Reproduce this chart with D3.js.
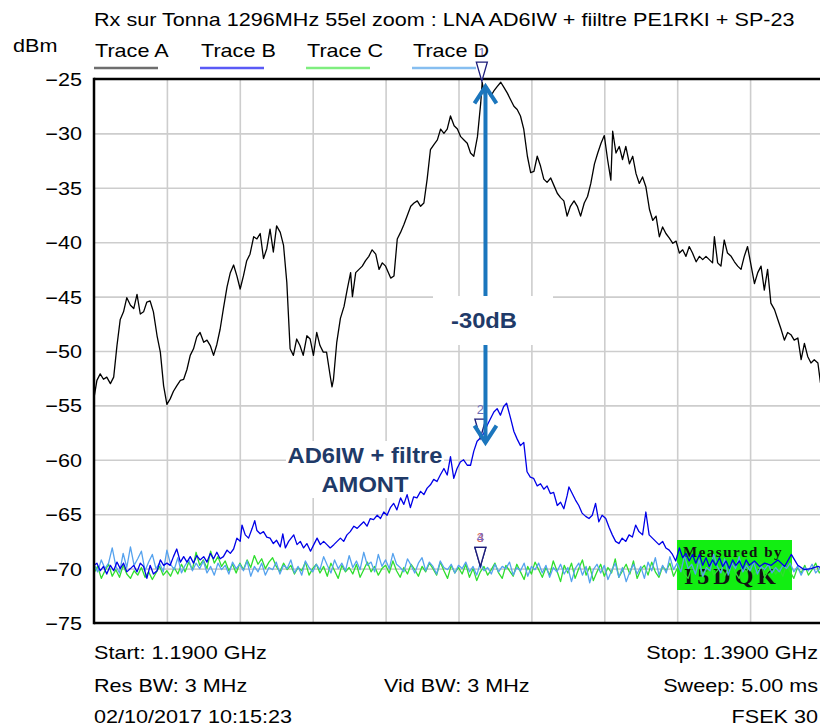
<!DOCTYPE html>
<html>
<head>
<meta charset="utf-8">
<script src="https://cdn.jsdelivr.net/npm/d3@7"></script>
<style>
  body { margin: 0; background: #fff; }
  svg { display: block; font-family: "Liberation Sans", Arial, sans-serif; }
</style>
</head>
<body>
<svg id="chart"></svg>
<script>
// 频谱仪截图的数据 (MHz, dBm)
var titleText = "Rx sur Tonna 1296MHz 55el zoom : LNA AD6IW + fiiltre PE1RKI + SP-23";
var traceNames = ["Trace A", "Trace B", "Trace C", "Trace D"];
var yTicks = [-25, -30, -35, -40, -45, -50, -55, -60, -65, -70, -75];
var gridFreqs = [1210, 1230, 1250, 1270, 1290, 1310, 1330, 1350, 1370];

var traceA = [[1190,-54.3],[1190.8,-52.7],[1191.7,-52.1],[1192.6,-52.6],[1193.5,-52.4],[1194.5,-53.0],[1195.4,-52.4],[1196.3,-49.5],[1197.2,-47.1],[1198.1,-46.4],[1199.0,-45.1],[1200.0,-45.8],[1200.9,-46.1],[1201.8,-44.8],[1202.7,-46.6],[1203.6,-46.4],[1204.5,-45.5],[1205.4,-45.4],[1206.3,-46.4],[1207.3,-48.6],[1208.2,-50.1],[1209.1,-53.2],[1210.0,-54.9],[1210.9,-54.4],[1211.8,-53.7],[1212.7,-53.2],[1213.7,-52.7],[1214.6,-52.6],[1215.5,-51.7],[1216.4,-50.4],[1217.3,-49.8],[1218.2,-48.7],[1219.1,-48.3],[1220.1,-49.2],[1221.0,-49.0],[1221.9,-49.5],[1222.8,-50.4],[1223.7,-49.4],[1224.6,-48.0],[1225.5,-46.1],[1226.5,-44.1],[1227.4,-42.8],[1228.3,-42.1],[1229.2,-43.1],[1230.1,-44.3],[1231.0,-43.1],[1231.9,-41.7],[1232.8,-41.1],[1233.8,-39.5],[1234.7,-39.7],[1235.6,-39.2],[1236.5,-41.5],[1237.4,-40.6],[1238.3,-38.8],[1239.2,-40.9],[1240.1,-38.5],[1241.1,-39.1],[1242.0,-40.3],[1242.9,-43.7],[1243.8,-49.8],[1244.7,-50.4],[1245.6,-48.9],[1246.5,-49.5],[1247.4,-50.4],[1248.4,-48.6],[1249.3,-48.9],[1250.2,-50.4],[1251.1,-48.3],[1252.0,-49.5],[1252.9,-50.1],[1253.8,-50.1],[1254.8,-52.3],[1255.3,-53.3],[1255.7,-52.6],[1256.6,-49.2],[1257.6,-47.0],[1258.6,-45.9],[1259.5,-44.3],[1260.4,-42.8],[1260.9,-45.0],[1261.8,-42.8],[1262.7,-42.5],[1263.6,-42.2],[1264.5,-41.7],[1265.4,-41.3],[1266.3,-40.7],[1267.3,-41.1],[1268.2,-42.5],[1269.1,-41.9],[1270.0,-42.2],[1271.4,-43.3],[1272.3,-43.1],[1273.2,-39.7],[1274.1,-39.1],[1275.0,-38.4],[1275.9,-37.6],[1276.9,-36.7],[1277.8,-36.4],[1278.7,-36.2],[1279.6,-36.7],[1280.5,-36.4],[1281.4,-34.2],[1282.3,-31.5],[1283.3,-31.0],[1284.2,-30.6],[1285.1,-29.6],[1286.0,-30.0],[1286.9,-29.6],[1287.8,-28.4],[1288.8,-29.3],[1289.7,-29.6],[1290.6,-30.3],[1291.5,-30.6],[1292.4,-30.9],[1293.3,-31.8],[1294.2,-32.1],[1295.2,-30.3],[1296.1,-27.2],[1296.5,-25.3],[1297.2,-26.6],[1297.9,-26.0],[1298.8,-26.6],[1299.7,-26.1],[1300.6,-25.7],[1301.6,-25.3],[1302.5,-25.8],[1303.4,-26.3],[1304.3,-26.9],[1305.2,-27.5],[1306.1,-27.8],[1307.0,-28.4],[1307.9,-29.6],[1308.9,-32.1],[1309.8,-33.6],[1310.7,-33.5],[1311.6,-32.1],[1312.5,-33.0],[1313.4,-34.2],[1314.3,-34.5],[1315.3,-34.1],[1316.2,-34.8],[1317.1,-35.5],[1318.0,-35.9],[1318.9,-36.2],[1319.8,-37.6],[1320.7,-36.7],[1321.7,-36.2],[1322.6,-36.7],[1323.5,-37.6],[1324.5,-36.4],[1325.4,-35.8],[1326.3,-34.6],[1327.3,-32.8],[1328.2,-31.8],[1329.1,-30.9],[1330.0,-30.2],[1330.9,-32.4],[1331.8,-34.3],[1332.3,-29.8],[1333.2,-31.8],[1334.1,-31.2],[1335.0,-32.4],[1335.9,-31.2],[1336.9,-32.8],[1337.8,-32.1],[1338.7,-33.7],[1339.6,-34.6],[1340.5,-34.0],[1341.4,-34.9],[1342.4,-37.0],[1343.3,-38.0],[1344.2,-37.6],[1345.1,-39.5],[1346.0,-38.6],[1346.9,-39.2],[1347.8,-39.6],[1348.8,-40.1],[1349.7,-39.9],[1350.6,-41.0],[1351.5,-40.7],[1352.4,-41.3],[1353.3,-40.4],[1354.2,-41.0],[1355.2,-41.8],[1356.1,-41.3],[1357.0,-41.6],[1357.9,-41.3],[1358.8,-41.6],[1359.7,-41.9],[1360.2,-39.5],[1361.1,-41.9],[1362.0,-42.2],[1362.9,-39.8],[1363.8,-41.0],[1364.8,-41.3],[1365.7,-41.8],[1366.6,-42.2],[1367.5,-42.5],[1368.4,-41.3],[1369.3,-40.4],[1370.3,-42.2],[1371.2,-43.8],[1372.1,-42.8],[1373.0,-42.2],[1373.9,-44.4],[1374.8,-42.5],[1375.7,-45.6],[1376.7,-46.2],[1377.6,-47.1],[1378.5,-48.0],[1379.4,-49.0],[1380.3,-48.3],[1381.2,-48.5],[1382.1,-49.0],[1383.1,-48.8],[1384.0,-50.8],[1384.9,-49.3],[1385.8,-50.5],[1386.7,-51.1],[1387.6,-50.8],[1388.6,-51.1],[1389.3,-52.9],[1390.0,-53.6]];

var traceB = [[1190,-69.7],[1190.8,-69.5],[1191.7,-70.2],[1192.6,-69.8],[1193.5,-70.5],[1194.5,-69.7],[1195.4,-70.2],[1196.3,-69.4],[1197.2,-70.0],[1198.1,-69.5],[1199.0,-70.3],[1200.0,-70.0],[1200.9,-69.7],[1201.8,-70.3],[1202.7,-69.5],[1203.6,-69.8],[1204.5,-70.9],[1205.4,-69.7],[1206.3,-70.5],[1207.3,-70.2],[1208.2,-69.2],[1209.1,-69.7],[1210.0,-69.5],[1210.9,-69.7],[1211.8,-68.9],[1212.7,-68.2],[1213.7,-69.4],[1214.6,-68.9],[1215.5,-69.4],[1216.4,-68.9],[1217.3,-69.5],[1218.2,-68.8],[1219.1,-69.2],[1220.1,-68.9],[1221.0,-69.4],[1221.9,-68.6],[1222.8,-69.1],[1223.7,-68.5],[1224.6,-69.1],[1225.5,-68.9],[1226.5,-68.3],[1227.4,-68.6],[1228.3,-68.2],[1229.2,-67.2],[1230.1,-67.5],[1230.6,-66.0],[1231.5,-66.9],[1232.4,-67.2],[1233.4,-66.3],[1234.1,-65.6],[1234.7,-66.5],[1235.6,-66.8],[1236.5,-66.6],[1237.4,-67.1],[1238.3,-67.2],[1239.2,-67.7],[1240.1,-67.4],[1241.1,-68.0],[1241.8,-66.8],[1242.5,-68.1],[1243.4,-67.5],[1244.8,-66.9],[1245.7,-67.8],[1246.6,-67.5],[1247.5,-68.1],[1248.4,-67.7],[1249.4,-68.4],[1250.3,-67.8],[1251.2,-67.2],[1252.1,-67.8],[1253.0,-67.5],[1253.9,-67.8],[1254.8,-68.1],[1255.8,-67.8],[1256.7,-67.5],[1257.6,-67.2],[1258.5,-67.5],[1259.4,-66.9],[1260.3,-66.6],[1261.3,-66.1],[1262.2,-66.3],[1263.1,-66.0],[1264.0,-65.7],[1264.9,-66.1],[1265.8,-65.4],[1266.7,-65.5],[1267.7,-65.1],[1268.6,-65.4],[1269.5,-64.8],[1270.4,-65.1],[1271.3,-64.4],[1272.2,-64.0],[1273.1,-64.6],[1274.1,-63.5],[1275.0,-64.1],[1275.9,-63.2],[1276.8,-64.4],[1277.7,-63.4],[1278.6,-63.5],[1279.6,-62.9],[1280.5,-63.2],[1281.4,-62.6],[1282.3,-62.3],[1283.2,-61.8],[1284.1,-62.0],[1285.0,-61.4],[1286.0,-60.8],[1286.9,-61.4],[1287.8,-59.7],[1288.7,-61.7],[1289.6,-60.8],[1290.5,-60.2],[1291.4,-60.0],[1292.4,-60.5],[1293.3,-60.5],[1294.2,-59.2],[1295.1,-58.3],[1296.0,-58.0],[1296.9,-57.6],[1297.9,-56.8],[1298.8,-56.2],[1299.7,-55.6],[1300.6,-55.3],[1301.5,-55.9],[1302.4,-55.1],[1303.2,-54.8],[1304.3,-56.2],[1305.2,-57.4],[1306.1,-58.1],[1307.0,-58.7],[1307.9,-58.4],[1308.8,-61.1],[1309.7,-61.6],[1310.6,-61.7],[1311.6,-62.4],[1312.5,-62.2],[1313.4,-62.7],[1314.3,-62.4],[1315.2,-63.1],[1316.1,-63.0],[1317.1,-64.2],[1318.0,-63.9],[1318.9,-64.5],[1319.8,-63.3],[1320.3,-62.5],[1321.2,-63.1],[1322.1,-63.7],[1323.0,-64.2],[1323.9,-64.9],[1324.9,-65.2],[1325.8,-65.4],[1326.7,-65.1],[1327.6,-64.0],[1328.5,-65.7],[1329.4,-65.1],[1330.4,-65.4],[1331.3,-66.2],[1332.2,-66.9],[1333.1,-67.5],[1334.0,-67.7],[1334.9,-67.2],[1335.9,-67.5],[1336.8,-66.9],[1337.7,-67.1],[1338.6,-66.0],[1339.5,-66.6],[1340.5,-66.9],[1341.4,-64.8],[1342.3,-66.9],[1343.2,-67.2],[1344.1,-67.5],[1345.0,-67.8],[1346.0,-67.5],[1346.9,-68.1],[1347.8,-68.3],[1348.7,-68.7],[1349.6,-69.3],[1350.6,-68.1],[1351.5,-69.0],[1352.4,-68.6],[1353.3,-69.3],[1354.2,-68.7],[1355.1,-69.5],[1356.1,-68.7],[1357.0,-69.7],[1357.9,-69.0],[1358.8,-69.8],[1359.7,-69.2],[1360.6,-69.7],[1361.6,-69.0],[1362.5,-69.8],[1363.4,-69.3],[1364.3,-70.0],[1365.2,-69.2],[1366.1,-69.7],[1367.1,-69.3],[1368.0,-70.0],[1368.9,-69.2],[1369.8,-69.7],[1371.2,-69.3],[1372.6,-69.8],[1374.0,-69.5],[1375.8,-69.7],[1377.6,-69.2],[1379.5,-69.8],[1381.3,-68.7],[1383.1,-69.7],[1384.9,-70.1],[1386.7,-70.0],[1388.6,-69.8],[1390.0,-70.0]];

// Trace C / D : 1190 MHz 起, 每 1 MHz 一个点
var traceCStart = 1190;
var traceC = [
  -70.4,-69.8,-70.9,-70.2,-69.6,-70.7,-70.1,-70.8,-69.7,-70.5,
  -70.9,-70.2,-70.6,-69.9,-70.8,-70.3,-71.0,-70.4,-69.8,-70.6,
  -70.2,-70.7,-69.9,-70.5,-69.6,-70.3,-69.4,-70.1,-68.5,-69.7,
  -69.2,-70.0,-68.4,-69.5,-68.9,-69.8,-69.3,-70.2,-69.6,-70.4,
  -69.5,-70.1,-69.2,-69.9,-68.8,-69.6,-69.1,-70.0,-69.4,-69.0,
  -69.8,-70.3,-69.5,-70.1,-69.7,-70.5,-69.9,-70.2,-69.4,-70.6,
  -70.0,-69.6,-70.4,-69.8,-70.7,-69.5,-70.2,-70.9,-69.7,-70.3,
  -69.9,-70.5,-69.6,-70.8,-70.1,-69.4,-70.3,-69.8,-70.6,-70.0,
  -69.7,-70.4,-69.3,-70.2,-70.8,-69.9,-70.5,-69.6,-70.1,-70.7,
  -69.8,-70.3,-69.5,-70.0,-70.6,-69.4,-70.2,-70.9,-69.7,-70.4,
  -69.9,-70.5,-69.6,-70.8,-70.0,-71.1,-70.3,-69.8,-70.6,-70.1,
  -69.5,-70.4,-70.9,-69.7,-70.2,-70.7,-69.6,-70.3,-71.0,-69.8,
  -70.5,-69.4,-70.1,-70.8,-69.9,-70.6,-69.3,-70.2,-71.2,-69.7,
  -70.4,-69.5,-70.9,-70.0,-69.2,-70.6,-69.8,-71.1,-70.3,-69.6,
  -70.7,-69.9,-70.4,-69.1,-70.8,-70.2,-69.6,-70.5,-69.3,-70.9,
  -70.1,-69.7,-70.6,-69.4,-70.3,-70.8,-69.8,-70.2,-69.5,-70.7,
  -70.0,-69.6,-70.5,-70.9,-69.9,-70.3,-69.7,-70.8,-70.1,-69.4,
  -70.6,-70.2,-69.8,-70.7,-70.0,-69.5,-70.4,-70.9,-69.9,-70.3,
  -69.7,-70.6,-70.1,-69.4,-70.8,-70.2,-69.8,-70.5,-70.0,-70.7,
  -69.6,-70.3,-70.9,-69.9,-70.4,-69.7,-70.6,-70.1,-69.5,-70.4,
  -70.0];
var traceD = [
  -69.6,-70.3,-69.2,-70.0,-69.5,-68.1,-69.8,-70.4,-68.6,-69.9,
  -68.0,-69.7,-69.1,-68.4,-70.2,-69.4,-68.7,-70.0,-69.5,-70.3,
  -68.3,-69.6,-70.1,-69.0,-70.4,-69.7,-69.2,-70.2,-69.5,-70.0,
  -69.3,-70.4,-69.8,-70.6,-69.5,-70.1,-69.7,-70.5,-69.4,-70.0,
  -69.6,-70.2,-69.3,-70.7,-69.8,-70.3,-69.5,-70.6,-69.9,-70.1,
  -69.4,-70.5,-69.7,-70.0,-69.2,-70.4,-69.8,-70.6,-69.3,-69.9,
  -70.3,-69.6,-70.1,-68.9,-69.7,-70.4,-69.2,-70.0,-69.5,-70.2,
  -68.8,-69.9,-69.3,-70.1,-68.5,-69.7,-69.4,-70.3,-68.7,-69.8,
  -69.2,-70.0,-68.6,-69.6,-69.9,-70.3,-69.1,-69.7,-70.4,-69.5,
  -69.0,-70.2,-69.4,-69.8,-70.5,-69.3,-69.9,-70.1,-69.6,-70.4,
  -69.7,-70.0,-69.4,-70.3,-69.8,-70.6,-69.5,-70.2,-69.9,-70.5,
  -69.6,-70.3,-69.8,-70.0,-69.4,-70.6,-69.9,-70.2,-69.5,-70.7,
  -69.8,-70.1,-69.5,-70.4,-69.7,-70.8,-69.9,-70.3,-69.6,-70.5,
  -69.9,-71.2,-70.0,-69.5,-70.6,-69.8,-71.3,-70.1,-69.6,-70.4,
  -69.7,-71.0,-70.2,-69.5,-70.8,-69.9,-71.2,-70.3,-69.6,-70.5,
  -69.8,-70.9,-69.4,-70.2,-69.0,-70.6,-69.7,-70.4,-68.9,-70.1,
  -69.5,-70.3,-68.8,-70.0,-69.6,-70.5,-69.2,-70.7,-69.9,-70.2,
  -68.7,-69.8,-70.4,-69.1,-70.6,-69.5,-70.0,-68.9,-70.3,-69.7,
  -70.2,-69.4,-70.5,-69.8,-70.1,-69.6,-70.4,-69.9,-70.3,-69.7,
  -70.0,-69.5,-70.3,-69.8,-70.6,-69.9,-70.2,-69.6,-70.4,-70.0,
  -69.8];

// 标记点
var markers = [
  { f: 1296.4, v: -25.2, label: "1", color: "#6d6db5" },
  { f: 1296.0, v: -58.0, label: "2", color: "#6d6db5" },
  { f: 1296.0, v: -69.8, label: "3", color: "#d86a5a" },
  { f: 1296.0, v: -69.8, label: "4", color: "#7a6ac0" }
];
// -30dB 箭头
var arrowF = 1297.4, arrowTop = -25.5, arrowBottom = -58.6;

var bottomLeft = ["Start: 1.1900 GHz", "Res BW: 3 MHz", "02/10/2017 10:15:23"];
var bottomMid = ["", "Vid BW: 3 MHz", ""];
var bottomRight = ["Stop: 1.3900 GHz", "Sweep: 5.00 ms", "FSEK 30"];

var W = 820, H = 728;
var plotL = 94, plotR = 823, plotT = 79, plotB = 623;
var SX = 1.2; // 截图里的字体横向被拉宽了

var svg = d3.select('#chart').attr('width', W).attr('height', H);

var x = d3.scaleLinear().domain([1190, 1390]).range([plotL, plotR]);
var y = d3.scaleLinear().domain([-75, -25]).range([plotB, plotT]);

function label(g, px, py, s, opts) {
  opts = opts || {};
  return g.append('text')
    .attr('transform', 'translate(' + px + ',' + py + ') scale(' + (opts.sx || SX) + ',1)')
    .attr('text-anchor', opts.anchor || 'start')
    .attr('font-size', opts.size || 18)
    .attr('font-weight', opts.weight || 'normal')
    .attr('fill', opts.fill || '#000')
    .text(s);
}

// 网格
svg.append('g')
  .attr('transform', 'translate(0,' + plotB + ')')
  .call(d3.axisBottom(x).tickValues(gridFreqs).tickSize(-(plotB - plotT)).tickFormat(''))
  .call(function(g) {
    g.select('.domain').remove();
    g.selectAll('line').attr('stroke', '#cdcdcd').attr('stroke-width', 1.6);
  });
svg.append('g')
  .attr('transform', 'translate(' + plotL + ',0)')
  .call(d3.axisLeft(y).tickValues(yTicks.slice(1, -1)).tickSize(-(plotR - plotL)).tickFormat(''))
  .call(function(g) {
    g.select('.domain').remove();
    g.selectAll('line').attr('stroke', '#cdcdcd').attr('stroke-width', 1.6);
  });

// y 轴刻度文字
svg.append('g')
  .attr('transform', 'translate(' + plotL + ',0)')
  .call(d3.axisLeft(y).tickValues(yTicks).tickSize(0).tickFormat(d3.format('d')))
  .call(function(g) {
    g.select('.domain').remove();
    g.selectAll('text')
      .attr('x', 0).attr('dy', '0.36em')
      .attr('transform', 'translate(-12,0) scale(' + SX + ',1)')
      .attr('font-size', 18)
      .attr('font-family', '"Liberation Sans", Arial, sans-serif')
      .attr('fill', '#000');
  });

// 绿色水印
svg.append('rect')
  .attr('x', 677).attr('y', 540).attr('width', 115).attr('height', 50)
  .attr('fill', '#12ee12');
svg.append('text')
  .attr('x', 733).attr('y', 557).attr('text-anchor', 'middle')
  .attr('font-family', '"Liberation Serif", "DejaVu Serif", serif')
  .attr('font-size', 15).attr('font-weight', 'bold').attr('letter-spacing', 1.5)
  .attr('fill', '#111').text('Measured by');
svg.append('text')
  .attr('x', 732).attr('y', 584).attr('text-anchor', 'middle')
  .attr('font-family', '"Liberation Serif", "DejaVu Serif", serif')
  .attr('font-size', 24).attr('font-weight', 'bold').attr('letter-spacing', 4)
  .attr('fill', '#111').text('I5DQK');

// AD6IW 文字底块 (遮住网格)
svg.append('rect')
  .attr('x', 286).attr('y', 441).attr('width', 158).attr('height', 57)
  .attr('fill', '#fff');

// 曲线
var line = d3.line()
  .x(function(d) { return x(d[0]); })
  .y(function(d) { return y(d[1]); });

function uniform(start, vals) {
  return vals.map(function(v, i) { return [start + i, v]; });
}

var traces = [
  { data: uniform(traceCStart, traceC), color: '#2ede2e' },
  { data: uniform(traceCStart, traceD), color: '#55a2ee' },
  { data: traceB, color: '#0000e8' },
  { data: traceA, color: '#000000' }
];
svg.append('g').selectAll('path.trace')
  .data(traces)
  .enter()
  .append('path')
  .attr('class', 'trace')
  .attr('d', function(d) { return line(d.data); })
  .attr('fill', 'none')
  .attr('stroke', function(d) { return d.color; })
  .attr('stroke-width', 1.3)
  .attr('stroke-linejoin', 'round');

// 边框
svg.append('line').attr('x1', plotL).attr('x2', plotR).attr('y1', plotT).attr('y2', plotT)
  .attr('stroke', '#000').attr('stroke-width', 2.5);
svg.append('line').attr('x1', plotL).attr('x2', plotR).attr('y1', plotB).attr('y2', plotB)
  .attr('stroke', '#000').attr('stroke-width', 2.5);
svg.append('line').attr('x1', plotL).attr('x2', plotL).attr('y1', plotT - 1.2).attr('y2', plotB + 1.2)
  .attr('stroke', '#000').attr('stroke-width', 2.5);

// 标记三角
var mk = svg.append('g');
markers.forEach(function(m) {
  var cx = x(m.f), cy = y(m.v);
  mk.append('path')
    .attr('d', 'M' + (cx - 5.5) + ',' + (cy - 19) + 'L' + (cx + 5.5) + ',' + (cy - 19) + 'L' + cx + ',' + cy + 'Z')
    .attr('fill', 'rgba(255,255,255,0.7)')
    .attr('stroke', '#1c1c7a').attr('stroke-width', 1.3);
  mk.append('text')
    .attr('x', cx).attr('y', cy - 24)
    .attr('text-anchor', 'middle').attr('font-size', 13)
    .attr('fill', m.color).text(m.label);
});

// -30dB 双向箭头
var ax = x(arrowF), ay1 = y(arrowTop), ay2 = y(arrowBottom);
var arrow = svg.append('g')
  .attr('stroke', '#1b76bd').attr('stroke-width', 4).attr('fill', 'none');
arrow.append('line').attr('x1', ax).attr('x2', ax).attr('y1', ay1 + 2).attr('y2', ay2 - 2);
arrow.append('path').attr('d', 'M' + (ax - 11) + ',' + (ay1 + 19) + 'L' + ax + ',' + (ay1 + 2) + 'L' + (ax + 11) + ',' + (ay1 + 19));
arrow.append('path').attr('d', 'M' + (ax - 11) + ',' + (ay2 - 19) + 'L' + ax + ',' + (ay2 - 2) + 'L' + (ax + 11) + ',' + (ay2 - 19));

svg.append('rect')
  .attr('x', 433).attr('y', 296).attr('width', 120).attr('height', 49)
  .attr('fill', '#fff');
label(svg, 484, 328, '-30dB', { anchor: 'middle', size: 22, weight: 'bold', fill: '#1f3a68', sx: 1.08 });

label(svg, 365, 463, 'AD6IW + filtre', { anchor: 'middle', size: 22, weight: 'bold', fill: '#1f3a68', sx: 1.08 });
label(svg, 365, 492, 'AMONT', { anchor: 'middle', size: 22, weight: 'bold', fill: '#1f3a68', sx: 1.08 });

// 标题, 单位, 图例
label(svg, 94, 26, titleText);
label(svg, 13, 52, 'dBm');

var legendColors = ['#6e6e6e', '#5a5af6', '#7fee7f', '#86bef0'];
traceNames.forEach(function(name, i) {
  var lx = 95 + i * 106;
  label(svg, lx, 57, name);
  svg.append('line')
    .attr('x1', lx - 1).attr('x2', lx + 63).attr('y1', 68).attr('y2', 68)
    .attr('stroke', legendColors[i]).attr('stroke-width', 2.5);
});

// 底部参数
var rowY = [659, 692, 723];
rowY.forEach(function(ry, i) {
  label(svg, 94, ry, bottomLeft[i]);
  if (bottomMid[i]) label(svg, 384, ry, bottomMid[i]);
  label(svg, 818, ry, bottomRight[i], { anchor: 'end' });
});
</script>
</body>
</html>
